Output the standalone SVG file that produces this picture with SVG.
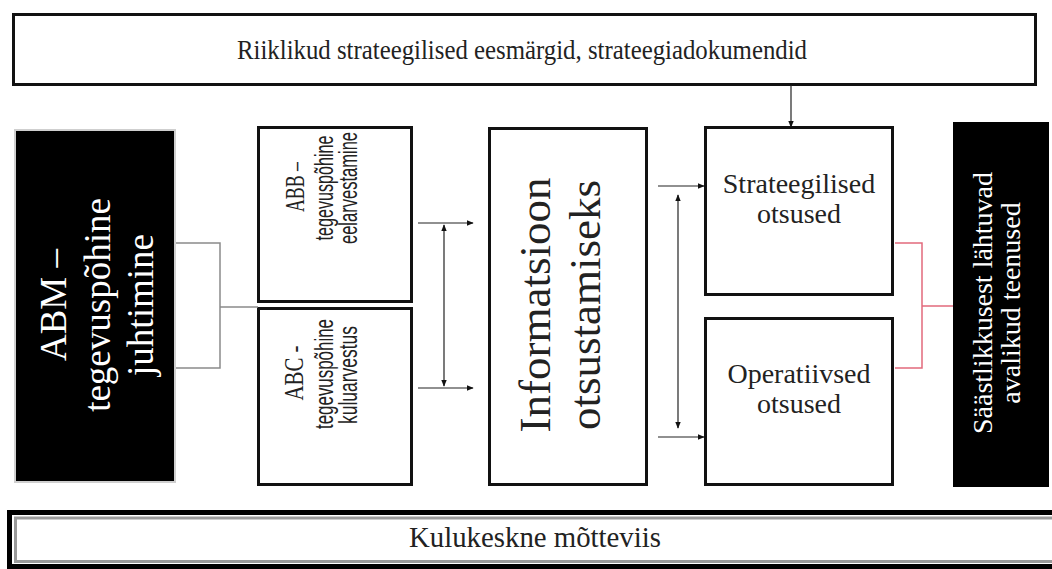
<svg xmlns="http://www.w3.org/2000/svg" width="1052" height="569" viewBox="0 0 1052 569">
  <style>
    .box { fill: #ffffff; stroke: #111111; stroke-width: 3; }
    .dark { fill: #000000; stroke: #cfcfcf; stroke-width: 2; }
    .serif { font-family: "Liberation Serif", "Times New Roman", serif; }
    .sans { font-family: "Liberation Sans", Arial, sans-serif; }
    .lbl { fill: #222222; }
    .inv { fill: #ffffff; }
    .link { fill: none; stroke: #222222; stroke-width: 1.2; }
    .grey { fill: none; stroke: #8a8a8a; stroke-width: 1.5; }
    .red { fill: none; stroke: #e26a7c; stroke-width: 1.5; }
  </style>
  <defs>
    <marker id="arrow" viewBox="0 0 10 10" refX="9" refY="5" markerWidth="7" markerHeight="7" orient="auto-start-reverse" markerUnits="userSpaceOnUse">
      <path d="M0,1 L10,5 L0,9 Z" fill="#111111"/>
    </marker>
  </defs>

  <rect width="1052" height="569" fill="#ffffff"/>

  <!-- national goals -->
  <g id="goals">
    <rect class="box" x="13.5" y="14.5" width="1022" height="70"/>
    <text class="serif lbl" x="522" y="59" font-size="27" text-anchor="middle" textLength="570" lengthAdjust="spacingAndGlyphs">Riiklikud strateegilised eesmärgid, strateegiadokumendid</text>
  </g>

  <!-- activity-based management -->
  <g id="abm">
    <rect class="dark" x="15" y="130" width="160" height="352"/>
    <g class="serif inv" font-size="37" text-anchor="middle">
      <text transform="translate(66,305) rotate(-90)">ABM –</text>
      <text transform="translate(110,305) rotate(-90)">tegevuspõhine</text>
      <text transform="translate(153,305) rotate(-90)">juhtimine</text>
    </g>
  </g>

  <!-- activity-based budgeting -->
  <g id="abb">
    <rect class="box" x="258.5" y="127.5" width="153" height="174"/>
    <g class="lbl" text-anchor="middle">
      <text class="serif" font-size="28" transform="translate(304,187) rotate(-90)" textLength="50" lengthAdjust="spacingAndGlyphs">ABB –</text>
      <text class="sans" font-size="25" transform="translate(333,188) rotate(-90)" textLength="105" lengthAdjust="spacingAndGlyphs">tegevuspõhine</text>
      <text class="sans" font-size="25" transform="translate(357,188) rotate(-90)" textLength="112" lengthAdjust="spacingAndGlyphs">eelarvestamine</text>
    </g>
  </g>

  <!-- activity-based costing -->
  <g id="abc">
    <rect class="box" x="258.5" y="308.5" width="153" height="176"/>
    <g class="lbl" text-anchor="middle">
      <text class="serif" font-size="28" transform="translate(303,373) rotate(-90)" textLength="55" lengthAdjust="spacingAndGlyphs">ABC -</text>
      <text class="sans" font-size="25" transform="translate(333,374) rotate(-90)" textLength="110" lengthAdjust="spacingAndGlyphs">tegevuspõhine</text>
      <text class="sans" font-size="25" transform="translate(357,375) rotate(-90)" textLength="98" lengthAdjust="spacingAndGlyphs">kuluarvestus</text>
    </g>
  </g>

  <!-- information for decisions -->
  <g id="info">
    <rect class="box" x="489.5" y="128.5" width="157" height="356"/>
    <g class="serif lbl" font-size="45" text-anchor="middle">
      <text transform="translate(550,305) rotate(-90)">Informatsioon</text>
      <text transform="translate(600,305) rotate(-90)">otsustamiseks</text>
    </g>
  </g>

  <!-- strategic decisions -->
  <g id="strategic">
    <rect class="box" x="705.5" y="127.5" width="187" height="167"/>
    <g class="serif lbl" font-size="28" text-anchor="middle">
      <text x="799" y="193">Strateegilised</text>
      <text x="799" y="223">otsused</text>
    </g>
  </g>

  <!-- operational decisions -->
  <g id="operational">
    <rect class="box" x="705.5" y="318.5" width="187" height="166"/>
    <g class="serif lbl" font-size="28" text-anchor="middle">
      <text x="799" y="383">Operatiivsed</text>
      <text x="799" y="413">otsused</text>
    </g>
  </g>

  <!-- economy-driven public services -->
  <g id="services">
    <rect x="953" y="122" width="96" height="365" fill="#000000"/>
    <g class="serif inv" font-size="28" text-anchor="middle">
      <text transform="translate(992,303) rotate(-90)">Säästlikkusest lähtuvad</text>
      <text transform="translate(1020,303) rotate(-90)">avalikud teenused</text>
    </g>
  </g>

  <!-- cost-centre mindset -->
  <g id="mindset">
    <rect x="9.5" y="512.5" width="1060" height="54" fill="#ffffff" stroke="#000000" stroke-width="5"/>
    <rect x="15.5" y="518" width="1050" height="43.5" fill="none" stroke="#9a9a9a" stroke-width="3"/>
    <text class="serif lbl" x="535" y="547" font-size="29" text-anchor="middle" textLength="252" lengthAdjust="spacingAndGlyphs">Kulukeskne mõtteviis</text>
  </g>

  <g id="connectors">
    <!-- goals feed strategic decisions -->
    <line class="link" x1="791" y1="85" x2="791" y2="127" marker-end="url(#arrow)"/>
    <!-- ABM bracket onto ABB / ABC -->
    <path class="grey" d="M176,243 H220 V368 H176 M220,307 H258"/>
    <!-- ABB / ABC to information -->
    <line class="link" x1="418" y1="223" x2="473" y2="223" marker-end="url(#arrow)"/>
    <line class="link" x1="418" y1="388" x2="473" y2="388" marker-end="url(#arrow)"/>
    <line class="link" x1="444" y1="225" x2="444" y2="386" marker-start="url(#arrow)" marker-end="url(#arrow)"/>
    <!-- information to decisions -->
    <line class="link" x1="658" y1="186" x2="704" y2="186" marker-end="url(#arrow)"/>
    <line class="link" x1="658" y1="437" x2="704" y2="437" marker-end="url(#arrow)"/>
    <line class="link" x1="678" y1="195" x2="678" y2="428" marker-start="url(#arrow)" marker-end="url(#arrow)"/>
    <!-- decisions bracket onto services -->
    <path class="red" d="M895,243 H922 V368 H895 M922,306 H953"/>
  </g>
</svg>
